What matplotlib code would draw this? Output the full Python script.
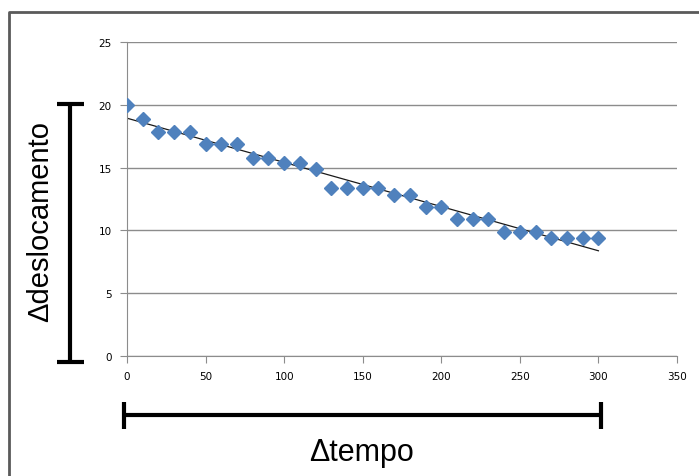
"""displacement vs time scatter with linear trend line"""

import matplotlib.pyplot as plt
from matplotlib.lines import Line2D
import numpy as np

# data
tempo = [0, 10, 20, 30, 40, 50, 60, 70, 80, 90, 100, 110, 120, 130, 140, 150,
         160, 170, 180, 190, 200, 210, 220, 230, 240, 250, 260, 270, 280, 290, 300]
deslocamento = [20.0, 18.9, 17.8, 17.8, 17.8, 16.9, 16.9, 16.9, 15.8, 15.8, 15.4,
                15.4, 14.9, 13.4, 13.4, 13.4, 13.4, 12.8, 12.8, 11.9, 11.9, 10.9,
                10.9, 10.9, 9.9, 9.9, 9.9, 9.4, 9.4, 9.4, 9.4]
x_ticks = [0, 50, 100, 150, 200, 250, 300, 350]
y_ticks = [0, 5, 10, 15, 20, 25]

fig = plt.figure(figsize=(6.99, 4.77), dpi=100)
ax = fig.add_axes([0.1817, 0.2516, 0.9685 - 0.1817, 0.9099 - 0.2516])

ax.set_xlim(0, 350)
ax.set_ylim(0, 25)
ax.set_xticks(x_ticks)
ax.set_yticks(y_ticks)
ax.yaxis.grid(True, color="#8c8c8c", linewidth=1)
ax.set_axisbelow(True)
for side in ["top", "right"]:
    ax.spines[side].set_visible(False)
for side in ["left", "bottom"]:
    ax.spines[side].set_color("#8c8c8c")
ax.tick_params(axis="both", direction="out", length=5, color="#8c8c8c",
               labelsize=7.5, pad=6)

# trend line (least squares)
coef = np.polyfit(tempo, deslocamento, 1)
xs = np.array([tempo[0], tempo[-1]])
ax.plot(xs, np.polyval(coef, xs), color="#1a1a1a", linewidth=0.9, zorder=2)

ax.plot(tempo, deslocamento, linestyle="none", marker="D", markersize=7.5,
        color="#4f81bd", zorder=3)

# delta bars
trans_x = ax.get_xaxis_transform()
ax.plot([-1.7, 301.5], [-0.188, -0.188], transform=trans_x, color="black",
        linewidth=3, clip_on=False, solid_capstyle="butt")
for xv in [-1.7, 301.5]:
    ax.plot([xv, xv], [-0.232, -0.146], transform=trans_x, color="black",
            linewidth=3, clip_on=False, solid_capstyle="butt")

trans_y = ax.get_yaxis_transform()
ax.plot([-0.1036, -0.1036], [-0.48, 20.05], transform=trans_y, color="black",
        linewidth=3, clip_on=False, solid_capstyle="butt")
for yv in [-0.48, 20.05]:
    ax.plot([-0.127, -0.079], [yv, yv], transform=trans_y, color="black",
            linewidth=3, clip_on=False, solid_capstyle="butt")

fig.text(362 / 699, 1 - 453 / 477, "\u0394tempo", fontsize=22,
         family="Liberation Sans", ha="center", va="center")
fig.text(40 / 699, 1 - 221 / 477, "\u0394deslocamento", fontsize=21,
         family="Liberation Sans", ha="center", va="center", rotation=90)

# outer frame
fig.add_artist(Line2D([9 / 699, 9 / 699, 1.0], [0.0, 1 - 13 / 477, 1 - 13 / 477],
                      transform=fig.transFigure, color="#5a5a5a", linewidth=2))

fig.savefig("out.png", dpi=100)
